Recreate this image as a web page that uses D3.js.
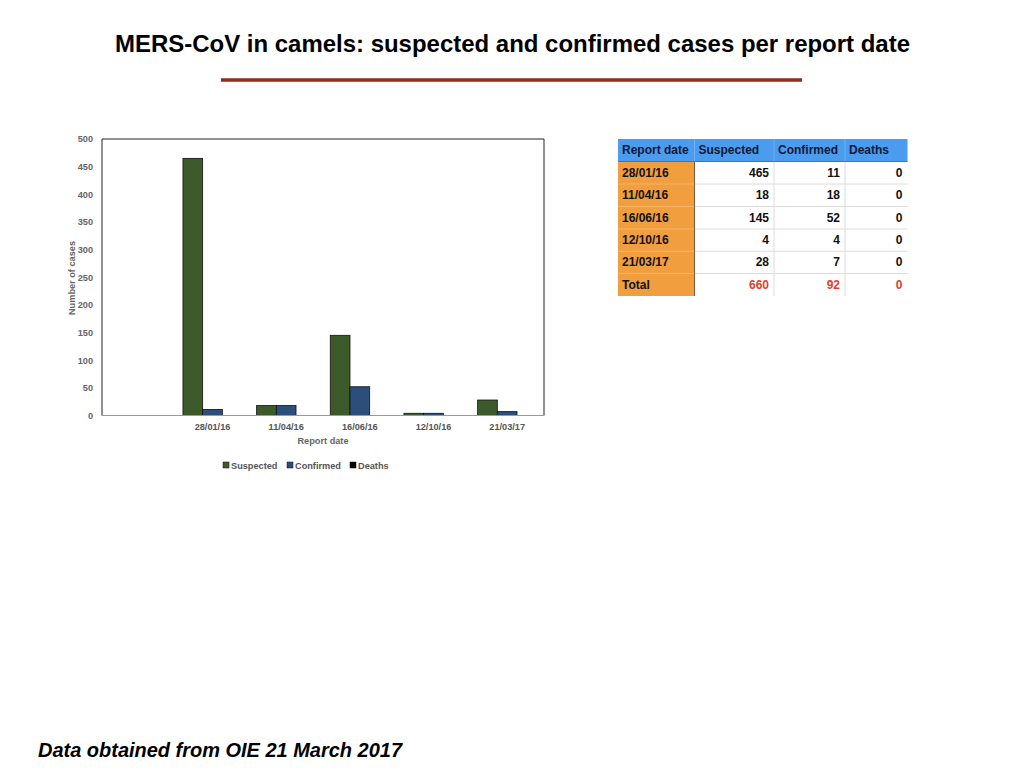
<!DOCTYPE html>
<html>
<head>
<meta charset="utf-8">
<script src="https://cdn.jsdelivr.net/npm/d3@7"></script>
<style>
  html, body { margin: 0; padding: 0; background: #fff; }
  svg { display: block; font-family: "Liberation Sans", Arial, Helvetica, sans-serif; }
</style>
</head>
<body>
<svg id="chart" width="1024" height="768"></svg>
<script>
// ---- data ----
const categories = ["", "28/01/16", "11/04/16", "16/06/16", "12/10/16", "21/03/17"];
const reportDates = ["28/01/16", "11/04/16", "16/06/16", "12/10/16", "21/03/17"];
const suspected = [465, 18, 145, 4, 28];
const confirmed = [11, 18, 52, 4, 7];
const deaths = [0, 0, 0, 0, 0];
const totals = [660, 92, 0];
const seriesNames = ["Suspected", "Confirmed", "Deaths"];
const seriesColors = ["#3d5a2b", "#2b4e7b", "#000000"];
const yTicks = [0, 50, 100, 150, 200, 250, 300, 350, 400, 450, 500];
const tableHeader = ["Report date", "Suspected", "Confirmed", "Deaths"];

const svg = d3.select("#chart");

// ---- title ----
svg.append("text")
  .attr("x", 512.5).attr("y", 52)
  .attr("text-anchor", "middle")
  .attr("font-size", 23.6).attr("font-weight", "bold").attr("fill", "#000")
  .attr("textLength", 795).attr("lengthAdjust", "spacingAndGlyphs")
  .text("MERS-CoV in camels: suspected and confirmed cases per report date");
svg.append("line")
  .attr("x1", 221).attr("x2", 802).attr("y1", 80).attr("y2", 80)
  .attr("stroke", "#922b1c").attr("stroke-width", 3.5);

// ---- footer ----
svg.append("text")
  .attr("x", 38).attr("y", 757)
  .attr("font-size", 19.5).attr("font-weight", "bold").attr("font-style", "italic")
  .attr("fill", "#000")
  .attr("textLength", 364).attr("lengthAdjust", "spacingAndGlyphs")
  .text("Data obtained from OIE 21 March 2017");

// ---- chart ----
const pLeft = 102, pRight = 544, pTop = 139, pBottom = 415.5;
const x = d3.scaleBand().domain(categories).range([pLeft, pRight]).paddingInner(0).paddingOuter(0);
const xs = d3.scaleBand().domain(seriesNames).range([0, x.bandwidth()]).paddingInner(0).paddingOuter(0.37);
const y = d3.scaleLinear().domain([0, 500]).range([pBottom, pTop]);

const rows = reportDates.map((d, i) => ({ date: d, values: [suspected[i], confirmed[i], deaths[i]] }));

const g = svg.append("g");
rows.forEach(r => {
  r.values.forEach((v, j) => {
    if (v <= 0) return;
    g.append("rect")
      .attr("x", x(r.date) + xs(seriesNames[j]))
      .attr("y", y(v))
      .attr("width", xs.bandwidth())
      .attr("height", y(0) - y(v))
      .attr("fill", seriesColors[j])
      .attr("stroke", "#111").attr("stroke-width", 0.8);
  });
});

// frame
svg.append("path")
  .attr("d", `M${pLeft},${pBottom} V${pTop} H${pRight} V${pBottom}`)
  .attr("fill", "none").attr("stroke", "#222").attr("stroke-width", 1);
svg.append("line")
  .attr("x1", pLeft).attr("x2", pRight).attr("y1", pBottom).attr("y2", pBottom)
  .attr("stroke", "#999").attr("stroke-width", 1);

// y axis
const yAxis = d3.axisLeft(y).tickValues(yTicks).tickSize(0).tickPadding(9);
const ya = svg.append("g").attr("transform", `translate(${pLeft},0)`).call(yAxis);
ya.select(".domain").remove();
ya.selectAll("text").attr("font-size", 9.2).attr("font-weight", "bold").attr("fill", "#666")
  .attr("font-family", "Liberation Sans, Arial, sans-serif");

// x axis
const xAxis = d3.axisBottom(x).tickSize(0).tickPadding(8);
const xa = svg.append("g").attr("transform", `translate(0,${pBottom})`).call(xAxis);
xa.select(".domain").remove();
xa.selectAll("text").attr("font-size", 9.2).attr("font-weight", "bold").attr("fill", "#555")
  .attr("font-family", "Liberation Sans, Arial, sans-serif");

// axis titles
svg.append("text")
  .attr("x", (pLeft + pRight) / 2).attr("y", 444)
  .attr("text-anchor", "middle").attr("font-size", 9.2).attr("font-weight", "bold").attr("fill", "#666")
  .text("Report date");
svg.append("text")
  .attr("transform", "translate(75,278) rotate(-90)")
  .attr("text-anchor", "middle").attr("font-size", 9.2).attr("font-weight", "bold").attr("fill", "#666")
  .text("Number of cases");

// legend
const legendX = [223, 287, 350];
seriesNames.forEach((s, i) => {
  svg.append("rect").attr("x", legendX[i]).attr("y", 462).attr("width", 6).attr("height", 6)
    .attr("fill", seriesColors[i]).attr("stroke", "#111").attr("stroke-width", 0.5);
  svg.append("text").attr("x", legendX[i] + 8).attr("y", 469)
    .attr("font-size", 9.2).attr("font-weight", "bold").attr("fill", "#555")
    .text(s);
});

// ---- table ----
const colX = [618, 694.5, 774, 845, 907.5];
const rowY = [139, 161.5, 184, 206.5, 229, 251.3, 273.5, 296];
const tg = svg.append("g");
tg.append("rect").attr("x", colX[0]).attr("y", rowY[0]).attr("width", colX[4] - colX[0]).attr("height", rowY[1] - rowY[0])
  .attr("fill", "#4b9bee");
tg.append("rect").attr("x", colX[0]).attr("y", rowY[1]).attr("width", colX[1] - colX[0]).attr("height", rowY[7] - rowY[1])
  .attr("fill", "#f09e3e");
for (let r = 2; r <= 6; r++) {
  tg.append("line").attr("x1", colX[1]).attr("x2", colX[4]).attr("y1", rowY[r]).attr("y2", rowY[r])
    .attr("stroke", "#dcdcdc").attr("stroke-width", 1);
  tg.append("line").attr("x1", colX[0]).attr("x2", colX[1]).attr("y1", rowY[r]).attr("y2", rowY[r])
    .attr("stroke", "#f5b46a").attr("stroke-width", 1);
}
for (let c = 2; c <= 3; c++) {
  tg.append("line").attr("x1", colX[c]).attr("x2", colX[c]).attr("y1", rowY[1]).attr("y2", rowY[7])
    .attr("stroke", "#dcdcdc").attr("stroke-width", 1);
  tg.append("line").attr("x1", colX[c]).attr("x2", colX[c]).attr("y1", rowY[0]).attr("y2", rowY[1])
    .attr("stroke", "#6fb0f2").attr("stroke-width", 1);
}
tg.append("line").attr("x1", colX[1]).attr("x2", colX[1]).attr("y1", rowY[0]).attr("y2", rowY[1])
  .attr("stroke", "#6fb0f2").attr("stroke-width", 1);
tg.append("line").attr("x1", colX[1]).attr("x2", colX[1]).attr("y1", rowY[1]).attr("y2", rowY[7])
  .attr("stroke", "#7a5a3a").attr("stroke-width", 1);
tg.append("line").attr("x1", colX[0]).attr("x2", colX[4]).attr("y1", rowY[1]).attr("y2", rowY[1])
  .attr("stroke", "#5a6f8a").attr("stroke-width", 1);

tableHeader.forEach((h, i) => {
  tg.append("text").attr("x", colX[i] + 4).attr("y", (rowY[0] + rowY[1]) / 2 + 4)
    .attr("font-size", 12).attr("font-weight", "bold").attr("fill", "#0b1a3a").text(h);
});
rows.forEach((r, i) => {
  const cy = (rowY[i + 1] + rowY[i + 2]) / 2 + 4;
  tg.append("text").attr("x", colX[0] + 4).attr("y", cy)
    .attr("font-size", 12).attr("font-weight", "bold").attr("fill", "#111").text(r.date);
  r.values.forEach((v, j) => {
    tg.append("text").attr("x", colX[j + 2] - 5).attr("y", cy).attr("text-anchor", "end")
      .attr("font-size", 12).attr("font-weight", "bold").attr("fill", "#111").text(v);
  });
});
const ty = (rowY[6] + rowY[7]) / 2 + 4;
tg.append("text").attr("x", colX[0] + 4).attr("y", ty)
  .attr("font-size", 12).attr("font-weight", "bold").attr("fill", "#111").text("Total");
totals.forEach((v, j) => {
  tg.append("text").attr("x", colX[j + 2] - 5).attr("y", ty).attr("text-anchor", "end")
    .attr("font-size", 12).attr("font-weight", "bold").attr("fill", "#e0402c").text(v);
});
</script>
</body>
</html>
